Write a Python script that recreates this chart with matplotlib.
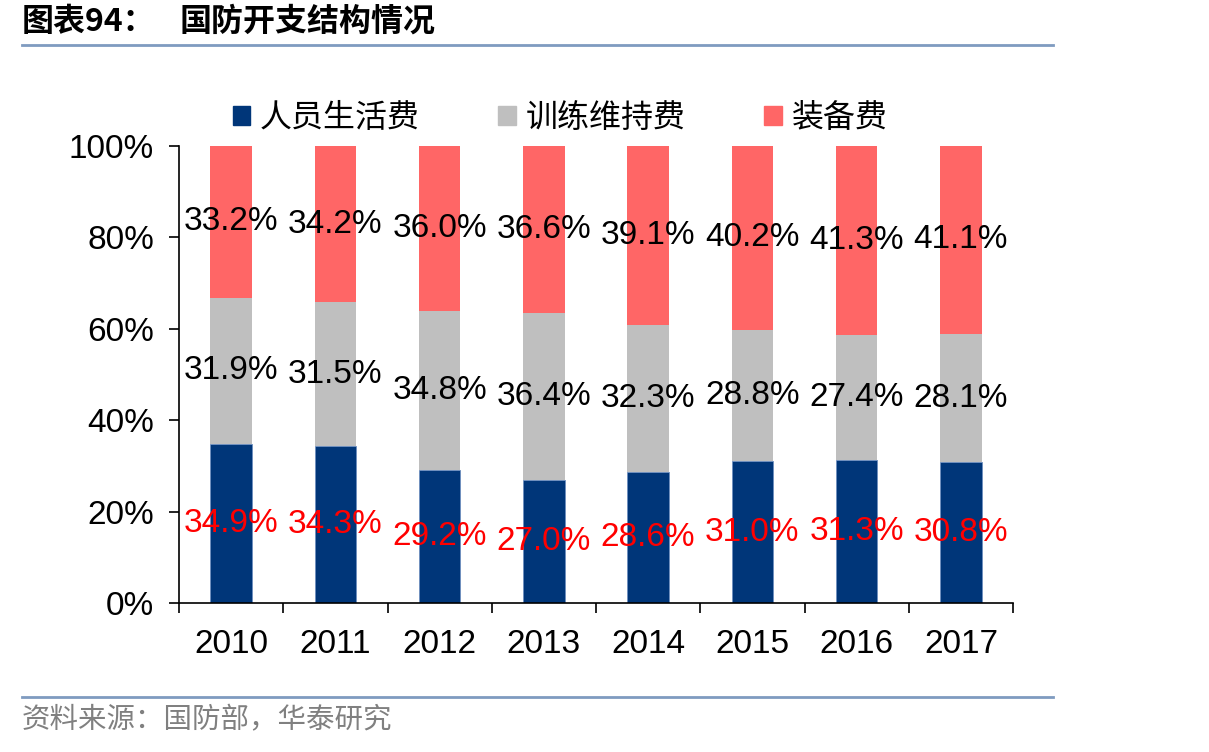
import matplotlib.pyplot as plt
import numpy as np
from matplotlib.lines import Line2D
from matplotlib.patches import Patch

plt.rcParams['font.family'] = ['Liberation Sans', 'Noto Sans CJK SC', 'DejaVu Sans']

years = ['2010', '2011', '2012', '2013', '2014', '2015', '2016', '2017']
personnel = [34.9, 34.3, 29.2, 27.0, 28.6, 31.0, 31.3, 30.8]
training = [31.9, 31.5, 34.8, 36.4, 32.3, 28.8, 27.4, 28.1]
equipment = [33.2, 34.2, 36.0, 36.6, 39.1, 40.2, 41.3, 41.1]
series_names = ['人员生活费', '训练维持费', '装备费']

navy = '#003679'
grey = '#BFBFBF'
red = '#FF6666'

fig = plt.figure(figsize=(12.09, 7.52), dpi=100)
ax = fig.add_axes([179 / 1209, 1 - 603 / 752, 834 / 1209, 457 / 752])

x = np.arange(len(years))
w = 0.4
b1 = ax.bar(x, personnel, w, color=navy, edgecolor='#6E8FBF', linewidth=0.6)
b2 = ax.bar(x, training, w, bottom=personnel, color=grey)
bottom3 = np.array(personnel) + np.array(training)
b3 = ax.bar(x, equipment, w, bottom=bottom3, color=red)

ax.bar_label(b1, labels=['%.1f%%' % v for v in personnel], label_type='center',
             color='#FF0000', fontsize=24)
ax.bar_label(b2, labels=['%.1f%%' % v for v in training], label_type='center',
             color='black', fontsize=24)
ax.bar_label(b3, labels=['%.1f%%' % v for v in equipment], label_type='center',
             color='black', fontsize=24)

ax.set_xlim(-0.5, len(years) - 0.5)
ax.set_ylim(0, 100)
ax.set_yticks(range(0, 101, 20))
ax.set_yticklabels(['%d%%' % v for v in range(0, 101, 20)], fontsize=24)
ax.set_xticks(x)
ax.set_xticklabels(years, fontsize=24)
ax.set_xticks(np.arange(-0.5, len(years)), minor=True)
ax.tick_params(axis='x', which='major', length=0, pad=19)
ax.tick_params(axis='x', which='minor', length=7, width=1.2, direction='out')
ax.tick_params(axis='y', length=7, width=1.2, direction='out', pad=11)
for s in ['top', 'right']:
    ax.spines[s].set_visible(False)
for s in ['left', 'bottom']:
    ax.spines[s].set_linewidth(1.2)

# legend
handles = [Patch(color=navy), Patch(color=grey), Patch(color=red)]
fig.legend(handles, series_names, loc='center', bbox_to_anchor=(560 / 1209, 1 - 118 / 752),
           ncol=3, frameon=False, handlelength=0.56, handleheight=0.56,
           handletextpad=0.3, columnspacing=2.45,
           prop={'family': ['Noto Sans CJK SC'], 'size': 23})

# title and source
fig.text(22 / 1209, 1 - 22 / 752, '图表94：', fontsize=23, fontweight='bold',
         family=['Noto Sans CJK SC'], va='center', ha='left')
fig.text(180 / 1209, 1 - 22 / 752, '国防开支结构情况', fontsize=23, fontweight='bold',
         family=['Noto Sans CJK SC'], va='center', ha='left')
fig.add_artist(Line2D([22 / 1209, 1053 / 1209], [1 - 45 / 752, 1 - 45 / 752],
                      color='#7F9BC0', linewidth=2))
fig.add_artist(Line2D([22 / 1209, 1053 / 1209], [1 - 697 / 752, 1 - 697 / 752],
                      color='#7F9BC0', linewidth=2))
fig.text(22 / 1209, 1 - 720 / 752, '资料来源：国防部，华泰研究', fontsize=20.5,
         color='#808080', family=['Noto Sans CJK SC'], va='center', ha='left')

fig.savefig('out.png', dpi=100)
